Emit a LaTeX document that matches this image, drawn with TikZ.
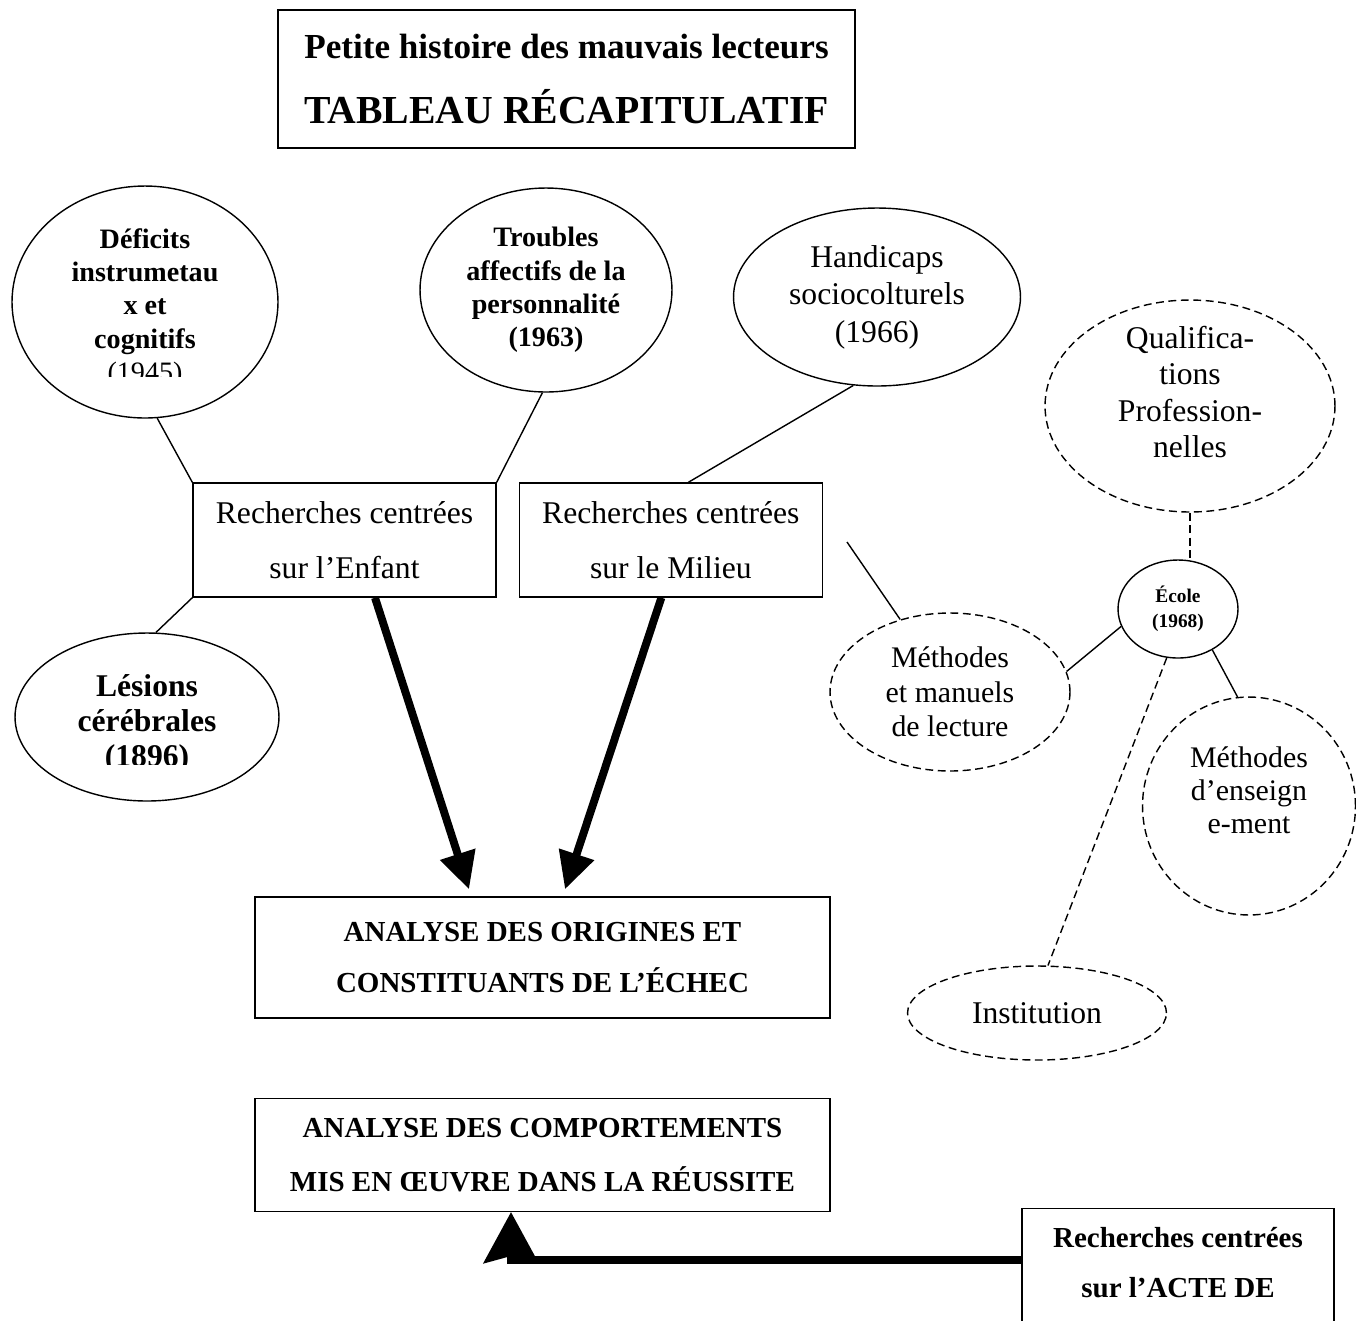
\documentclass[tikz,border=0pt]{standalone}
\usepackage{fontspec}
\setmainfont{Liberation Serif}
\usetikzlibrary{shapes.geometric, arrows.meta, positioning}

\begin{document}
\begin{tikzpicture}[
    x=0.02cm, y=-0.02cm,
    node distance=0.44cm,
    box/.style={rectangle, draw, line width=0.8pt, align=center, inner sep=0pt},
    oval/.style={ellipse, draw, line width=0.8pt, align=center, inner sep=0pt},
    dashoval/.style={oval, dash pattern=on 4.5pt off 2.6pt},
    link/.style={line width=0.8pt},
    dashlink/.style={line width=0.8pt, dash pattern=on 4.5pt off 2.6pt},
    bigarrow/.style={-{Triangle[length=21pt, width=20pt]}, line width=4.5pt},
    roman/.style={font=\fontsize{18}{21}\selectfont},
    heavy/.style={font=\fontsize{16}{19}\selectfont\bfseries}
  ]
  \useasboundingbox (0,0) rectangle (1356,1320);
  \clip (0,0) rectangle (1356,1320);

  % titre
  \node[box, minimum width=11.54cm, minimum height=2.76cm,
        font=\fontsize{20}{37}\selectfont\bfseries] (title) at (566.5,79)
    {Petite histoire des mauvais lecteurs\\{\fontsize{22.6}{37}\selectfont TABLEAU RÉCAPITULATIF}};

  % ellipses du haut
  \node[oval, minimum width=5.32cm, minimum height=4.64cm] (deficits) at (145,302) {};
  \begin{scope}
    \clip (0,180) rectangle (300,376);
    \node[heavy, align=center] (deficitstxt) at (145,308)
      {Déficits\\instrumetau\\x et\\cognitifs\\\textmd{(1945)}};
  \end{scope}
  \node[oval, heavy, minimum width=5.04cm, minimum height=4.08cm] (troubles) at (546,290)
    {Troubles\\affectifs de la\\personnalité\\(1963)};
  \node[oval, font=\fontsize{18}{21.3}\selectfont, minimum width=5.74cm, minimum height=3.56cm] (handicaps) at (877,297)
    {Handicaps\\sociocolturels\\(1966)};
  \node[dashoval, minimum width=5.8cm, minimum height=4.24cm] (qualif) at (1190,406) {};
  \node[font=\fontsize{18}{20.8}\selectfont, align=center] (qualiftxt) at (1190,392)
    {Qualifica-\\tions\\Profession-\\nelles};

  % recherches
  \node[box, font=\fontsize{18}{31}\selectfont, minimum width=6.06cm, minimum height=2.28cm] (enfant) at (344.5,540)
    {Recherches centrées\\sur l’Enfant};
  \node[box, font=\fontsize{18}{31}\selectfont, minimum width=6.06cm, minimum height=2.28cm, right=of enfant] (milieu)
    {Recherches centrées\\sur le Milieu};

  \node[oval, minimum width=5.28cm, minimum height=3.36cm] (lesions) at (147,717) {};
  \begin{scope}
    \clip (0,620) rectangle (300,764);
    \node[font=\fontsize{18}{20}\selectfont\bfseries, align=center] (lesionstxt) at (147,724)
      {Lésions\\cérébrales\\(1896)};
  \end{scope}

  % analyses
  \node[box, font=\fontsize{16.5}{29}\selectfont\bfseries, minimum width=11.5cm, minimum height=2.42cm] (origines) at (542.5,957.5)
    {ANALYSE DES ORIGINES ET\\CONSTITUANTS DE L’ÉCHEC};
  \node[box, font=\fontsize{16.5}{31}\selectfont\bfseries, minimum width=11.5cm, minimum height=2.26cm, below=1.58cm of origines] (reussite)
    {ANALYSE DES COMPORTEMENTS\\MIS EN ŒUVRE DANS LA RÉUSSITE};
  \node[box, font=\fontsize{16.5}{28.4}\selectfont\bfseries, minimum width=6.24cm, minimum height=3.46cm, anchor=north] (acte) at (1178,1208)
    {Recherches centrées\\sur l’ACTE DE\\\strut};

  % école
  \node[oval, font=\fontsize{11}{14}\selectfont\bfseries, minimum width=2.4cm, minimum height=1.96cm] (ecole) at (1178,609)
    {École\\(1968)};
  \node[dashoval, font=\fontsize{17}{19.6}\selectfont, minimum width=4.8cm, minimum height=3.16cm] (manuels) at (950,692)
    {Méthodes\\et manuels\\de lecture};
  \node[dashoval, minimum width=4.26cm, minimum height=4.36cm] (enseign) at (1249,806) {};
  \node[font=\fontsize{17}{18.7}\selectfont, align=center] (enseigntxt) at (1249,790)
    {Méthodes\\d’enseign\\e-ment};
  \node[dashoval, roman, minimum width=5.18cm, minimum height=1.88cm] (institution) at (1037,1013)
    {Institution};
  \coordinate (loose) at (847,542);

  % liens
  \draw[link] (deficits.-84) -- (enfant.north west);
  \draw[link] (troubles.-92) -- (enfant.north east);
  \draw[link] (handicaps.-105) -- ([xshift=0.35cm]milieu.north);
  \draw[link] (enfant.south west) -- (lesions.84);
  \draw[link] (loose) -- (manuels);
  \draw[dashlink] (qualif.south) -- (qualif.south |- ecole.north);
  \draw[link] (ecole.-163) -- (manuels.10);
  \draw[link] (ecole.-50) -- (enseign.96);
  \draw[dashlink] (ecole.-103) -- (institution.77);

  % flèches
  \draw[bigarrow] ([xshift=0.61cm]enfant.south) -- ([xshift=-1.47cm, yshift=0.14cm]origines.north);
  \draw[bigarrow] ([xshift=-0.19cm]milieu.south) -- ([xshift=0.45cm, yshift=0.14cm]origines.north);
  \draw[-{Stealth[length=29pt, width=31pt, inset=4pt]}, line width=4.5pt]
    ([yshift=0.7cm]acte.west) -| ([xshift=-0.63cm]reussite.south);
\end{tikzpicture}
\end{document}
